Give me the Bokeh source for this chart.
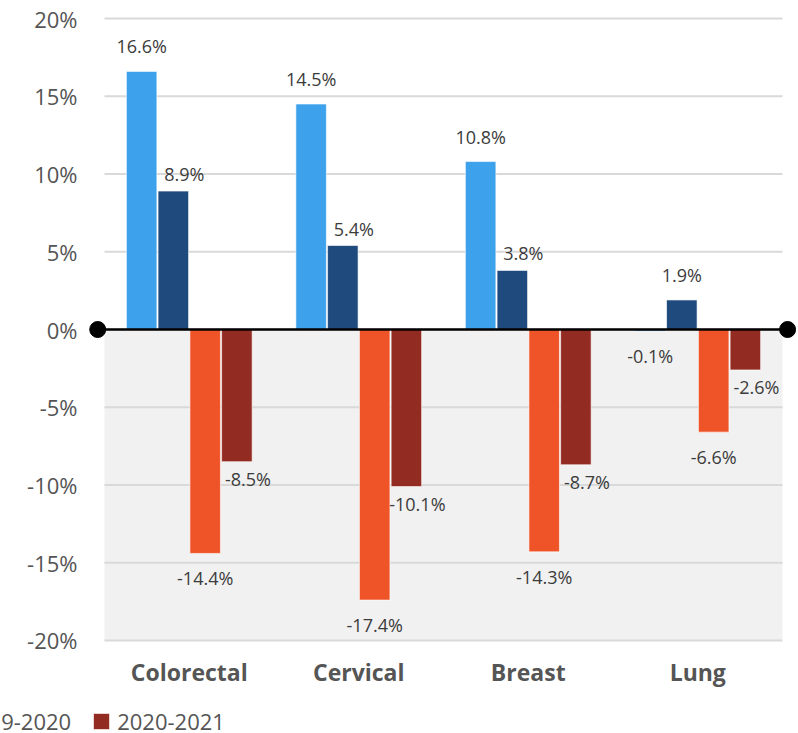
from bokeh.plotting import figure
from bokeh.models import ColumnDataSource, Legend, LegendItem, Range1d
from bokeh.core.properties import value
from bokeh.embed import file_html
from bokeh.resources import INLINE

# ---- data ----
categories = ["Colorectal", "Cervical", "Breast", "Lung"]
series_names = ["2017-2018", "2018-2019", "2019-2020", "2020-2021"]
series_1 = [16.6, 14.5, 10.8, -0.1]
series_2 = [8.9, 5.4, 3.8, 1.9]
series_3 = [-14.4, -17.4, -14.3, -6.6]
series_4 = [-8.5, -10.1, -8.7, -2.6]
y_ticks = [-20, -15, -10, -5, 0, 5, 10, 15, 20]
y_tick_labels = ["-20%", "-15%", "-10%", "-5%", "0%", "5%", "10%", "15%", "20%"]

# ---- style ----
colors = ["#3DA1EB", "#1F4A7D", "#EE5428", "#922B21"]
offsets = [-0.281, -0.094, 0.094, 0.281]
bar_w = 0.18
FONT = "Open Sans"
TXT = "#3C3C3C"
AX = "#555555"

all_series = [series_1, series_2, series_3, series_4]
n = len(categories)

W, H = 796, 733
p = figure(
    width=W, height=H,
    min_border_left=0, min_border_right=0, min_border_top=0, min_border_bottom=0,
    x_range=Range1d(-0.6136, 4.0826), y_range=Range1d(-25.981, 21.158),
    output_backend="svg", toolbar_location=None,
)
p.axis.visible = False
p.outline_line_color = None
p.xgrid.visible = False
p.ygrid.visible = False
p.background_fill_color = "white"
p.border_fill_color = "white"

# gray background for the negative half
p.quad(left=[0], right=[n], bottom=[min(y_ticks)], top=[0], fill_color="#F1F1F1", line_color=None)

# grid lines
p.segment(x0=[0] * len(y_ticks), x1=[n] * len(y_ticks), y0=y_ticks, y1=y_ticks,
          line_color="#D9D9D9", line_width=2)

# y tick labels
p.text(x=[0] * len(y_ticks), y=y_ticks, text=y_tick_labels, x_offset=-27,
       text_font=value(FONT), text_font_size="22px", text_color=AX,
       text_align="right", text_baseline="middle")

# category labels
p.text(x=[i + 0.5 for i in range(n)], y=[min(y_ticks)] * n, text=categories, y_offset=32,
       text_font=value(FONT), text_font_style="bold", text_font_size="23px", text_color=AX,
       text_align="center", text_baseline="middle")

# bars
renderers = []
lab_x, lab_y, lab_t, lab_dx, lab_dy = [], [], [], [], []
for j, vals in enumerate(all_series):
    xs = [i + 0.5 + offsets[j] for i in range(n)]
    src = ColumnDataSource(dict(x=xs, top=vals))
    r = p.vbar(x="x", top="top", bottom=0, width=bar_w, source=src,
               fill_color=colors[j], line_color="white", line_width=1, line_alpha=0.6)
    renderers.append(r)
    for i, v in enumerate(vals):
        shifted = False
        if j in (1, 3):
            prev = all_series[j - 1][i]
            if prev * v > 0 and abs(prev) > abs(v):
                shifted = True
        dist = 17 if shifted else 25
        lab_x.append(xs[i])
        lab_y.append(v)
        lab_t.append(f"{v}%")
        lab_dx.append(11 if shifted else 0)
        lab_dy.append(-dist if v > 0 else dist)

# zero line with end dots
p.segment(x0=[-0.04], x1=[n + 0.03], y0=[0], y1=[0], line_color="black", line_width=2.5)
p.scatter(x=[-0.04, n + 0.03], y=[0, 0], size=16, color="black")

# data labels
lsrc = ColumnDataSource(dict(x=lab_x, y=lab_y, t=lab_t, dx=lab_dx, dy=lab_dy))
p.text(x="x", y="y", text="t", x_offset="dx", y_offset="dy", source=lsrc,
       text_font=value(FONT), text_font_size="18px", text_color=TXT,
       text_align="center", text_baseline="middle")

legend = Legend(
    items=[LegendItem(label=nm, renderers=[r]) for nm, r in zip(series_names, renderers)],
    orientation="horizontal", location=(-370, -3),
    glyph_width=20, glyph_height=20, label_standoff=6, spacing=20,
    padding=0, margin=0, border_line_alpha=0, background_fill_alpha=0,
    label_text_font=FONT, label_text_font_size="22px", label_text_color=AX,
    label_height=20,
)
p.add_layout(legend, "center")

open("out.html", "w").write(file_html(p, INLINE))
